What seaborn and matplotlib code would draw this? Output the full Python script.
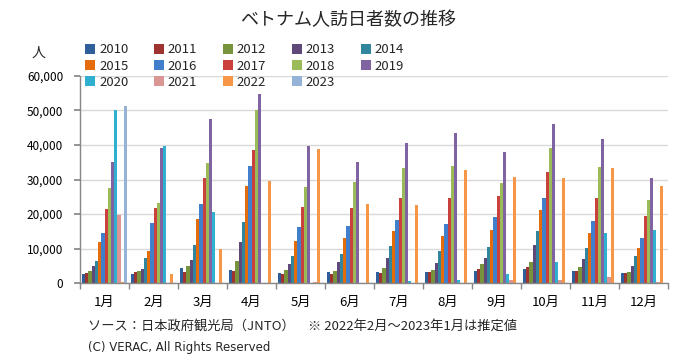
import numpy as np
import pandas as pd
import matplotlib
matplotlib.use("Agg")
import matplotlib.pyplot as plt
import seaborn as sns
from matplotlib.patches import Patch
from matplotlib.ticker import FuncFormatter, FixedLocator

months = ["1月", "2月", "3月", "4月", "5月", "6月", "7月", "8月", "9月", "10月", "11月", "12月"]
years = ["2010", "2011", "2012", "2013", "2014", "2015", "2016", "2017",
         "2018", "2019", "2020", "2021", "2022", "2023"]

v2010 = [2700, 2500, 4400, 3800, 3000, 3300, 3200, 3300, 3600, 4100, 3600, 2800]
v2011 = [3000, 3300, 3100, 3500, 2500, 2700, 3000, 3300, 4000, 4600, 3600, 2800]
v2012 = [3400, 3400, 4900, 6300, 3900, 3400, 4400, 3900, 5500, 6100, 4600, 3300]
v2013 = [4800, 4200, 6600, 12000, 5400, 6200, 7200, 5800, 7300, 11100, 7000, 5000]
v2014 = [6500, 7300, 11000, 17600, 7800, 8400, 10800, 9400, 10500, 15000, 10100, 7800]
v2015 = [12000, 9300, 18600, 28200, 12200, 12900, 15200, 13700, 15400, 21200, 14400, 10100]
v2016 = [14500, 17400, 23000, 33900, 16200, 16600, 18400, 17000, 19100, 24500, 17900, 12900]
v2017 = [21400, 21800, 30300, 38600, 21900, 21700, 24500, 24500, 25200, 32200, 24700, 19400]
v2018 = [27500, 23200, 34900, 50000, 27900, 29200, 33200, 34000, 29100, 39100, 33700, 24100]
v2019 = [35100, 39100, 47600, 54900, 39700, 35100, 40500, 43400, 38100, 46200, 41600, 30300]
v2020 = [50000, 39700, 20700, 100, 100, 100, 600, 1000, 2700, 6000, 14400, 15500]
v2021 = [19800, 100, 100, 50, 300, 100, 100, 100, 1000, 1000, 1600, 300]
v2022 = [300, 2500, 10000, 29600, 38800, 22800, 22500, 32700, 30600, 30500, 33300, 28000]
v2023 = [51200, np.nan, np.nan, np.nan, np.nan, np.nan, np.nan, np.nan, np.nan, np.nan, np.nan, np.nan]

series = [v2010, v2011, v2012, v2013, v2014, v2015, v2016, v2017,
          v2018, v2019, v2020, v2021, v2022, v2023]

colors = ["#2E5F9A", "#9E3330", "#77933C", "#5F497A", "#31859C", "#E46C0A", "#3F7FCB",
          "#C9403C", "#9BBB59", "#8064A2", "#2FB0D0", "#D99694", "#F79646", "#95B3D7"]
palette = dict(zip(years, colors))

rows = []
for yr, vals in zip(years, series):
    for m, v in zip(months, vals):
        rows.append({"month": m, "year": yr, "value": v})
df = pd.DataFrame(rows)

sns.set_theme(style="white")
plt.rcParams["font.family"] = ["Noto Sans CJK JP", "DejaVu Sans"]

W, H = 695, 360
fig = plt.figure(figsize=(W / 100, H / 100), dpi=100)
ax = fig.add_axes([80 / W, 1 - 283 / H, 588 / W, 207 / H])

sns.barplot(data=df, x="month", y="value", hue="year", order=months, hue_order=years,
            palette=palette, width=0.92, gap=0, errorbar=None, saturation=1,
            linewidth=0, legend=False, ax=ax)

ax.set_xlim(-0.5, 11.5)
ax.set_ylim(0, 60000)
ax.set_yticks(range(0, 60001, 10000))
ax.yaxis.set_major_formatter(FuncFormatter(lambda v, p: f"{int(v):,}"))
ax.yaxis.grid(True, color="#D9D9D9", lw=1)
ax.set_axisbelow(True)
ax.set_xlabel("")
ax.set_ylabel("")
for s in ["top", "right"]:
    ax.spines[s].set_visible(False)
for s in ["left", "bottom"]:
    ax.spines[s].set_color("#878787")
    ax.spines[s].set_linewidth(1)
ax.tick_params(axis="y", which="major", length=4, color="#878787", labelsize=8.5,
               labelcolor="#000000", pad=8, left=True, direction="out")
ax.tick_params(axis="x", which="major", length=0, labelsize=9.5, labelcolor="#000000", pad=9)
ax.xaxis.set_minor_locator(FixedLocator(np.arange(-0.5, 12, 1)))
ax.tick_params(axis="x", which="minor", length=4, color="#878787", bottom=True, direction="out")

# legend, row-wise order like the reference
order = [0, 5, 10, 1, 6, 11, 2, 7, 12, 3, 8, 13, 4, 9]
handles = [Patch(facecolor=colors[i], edgecolor="none") for i in order]
labels = [years[i] for i in order]
fig.legend(handles, labels, ncol=5, loc="upper left", bbox_to_anchor=(80 / W, 1 - 38 / H),
           frameon=False, fontsize=9.5, handlelength=0.75, handleheight=0.75,
           handletextpad=0.3, columnspacing=1.95, labelspacing=0.25, borderaxespad=0)

fig.text(348 / W, 1 - 20 / H, "ベトナム人訪日者数の推移", ha="center", va="center", fontsize=13)
fig.text(38 / W, 1 - 53 / H, "人", ha="center", va="center", fontsize=10)
fig.text(88 / W, 1 - 326 / H, "ソース：日本政府観光局（JNTO）　※ 2022年2月～2023年1月は推定値",
         ha="left", va="center", fontsize=9.5)
fig.text(88 / W, 1 - 347 / H, "(C) VERAC, All Rights Reserved", ha="left", va="center",
         fontsize=8.5, family=["Liberation Sans Narrow", "DejaVu Sans"])

fig.savefig("out.png", dpi=100)
